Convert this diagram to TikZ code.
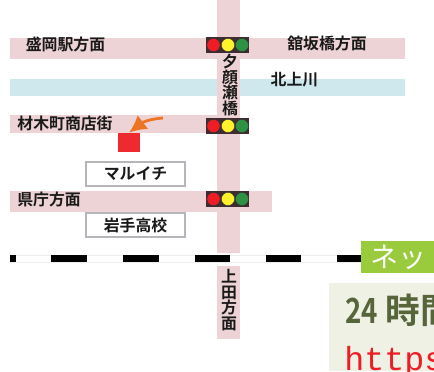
\documentclass[tikz,border=0pt]{standalone}
\usetikzlibrary{arrows.meta}
\usepackage{graphicx}
\usepackage{fontspec}
\setmainfont{Noto Sans CJK JP}
\newfontfamily\cjkbold{Noto Sans CJK JP Bold}
\newfontfamily\netfont{Noto Sans CJK JP}
\newfontfamily\urlfont{Liberation Mono}
\definecolor{road}{HTML}{EDD3D6}
\definecolor{river}{HTML}{CFE8ED}
\definecolor{sigbox}{HTML}{3D2C30}
\definecolor{sigred}{HTML}{EE1C25}
\definecolor{sigyel}{HTML}{FFF22D}
\definecolor{siggrn}{HTML}{2E9144}
\definecolor{markred}{HTML}{EE2A30}
\definecolor{arrowor}{HTML}{ED7424}
\definecolor{netgreen}{HTML}{9ACB3C}
\definecolor{panel}{HTML}{EEF1E4}
\definecolor{timegreen}{HTML}{56653A}
\definecolor{boxline}{HTML}{B5B5BA}
\tikzset{
  x=0.75pt,y=-0.75pt,
  label text/.style={font=\cjkbold\fontsize{11.9pt}{11.9pt}\selectfont,text=black!90,inner sep=0pt,align=center},
  place box/.style={draw=boxline,line width=1.5pt,fill=white,minimum width=74.5pt,minimum height=17.8pt,inner sep=0pt,font=\cjkbold\fontsize{11.9pt}{12pt}\selectfont,text=black!90},
  rail black/.style={fill=black},
  rail white/.style={fill=white,draw=black!7,line width=0.5pt}
}
\newcommand{\signal}[1]{%
  \fill[sigbox] (206,#1-8) rectangle (249,#1+8);
  \fill[sigred,draw=black!80,line width=0.3pt] (213.5,#1) circle (6.6);
  \fill[sigyel,draw=black!80,line width=0.3pt] (228,#1) circle (6.6);
  \fill[siggrn,draw=black!80,line width=0.3pt] (242,#1) circle (6.6);
}
\begin{document}
\begin{tikzpicture}
\useasboundingbox (0,0) rectangle (434,371);
% river and roads
\fill[river] (10,79) rectangle (405,96);
\fill[road] (10,38) rectangle (405,59);
\fill[road] (10,115) rectangle (240,133);
\fill[road] (10,191) rectangle (272,212);
\fill[road] (217,0) rectangle (240,253);
\fill[road] (217,266) rectangle (240,339);
% railway
\path[rail white] (10,255) rectangle (361,262);
\foreach \a/\b in {10/16,51/87,123/159,195/230,266/301,337/361}
  \fill[rail black] (\a,255) rectangle (\b,262);
% signals
\signal{45}
\signal{126}
\signal{199}
% labels
\node[label text] (morioka) at (65.5,44) {盛岡駅方面};
\node[label text] (tatesaka) at (327,43) {舘坂橋方面};
\node[label text] (kitakami) at (294.5,80) {北上川};
\node[label text] (zaimoku) at (65,123) {材木町商店街};
\node[label text] (kencho) at (49,199) {県庁方面};
\node[label text] (yugao) at (230,85) {夕\\顔\\瀬\\橋};
\node[label text] (ueda) at (229,300) {上\\田\\方\\面};
% places
\node[place box] (maruichi) at (135.5,174) {マルイチ};
\node[place box] (iwate) at (135.5,225) {岩手高校};
\node[fill=markred,minimum width=16.5pt,minimum height=14.3pt,inner sep=0pt] (shop) at (129,142.5) {};
\coordinate (arrowstart) at (163,118);
\draw[arrowor,line width=2.1pt,-{Latex[length=13pt,width=13pt]}] (arrowstart) .. controls (150,119) and (143,122) .. (shop.north);
% cropped web page parts
\fill[netgreen] (361,241) rectangle (434,273);
\node[anchor=west,inner sep=0pt,text=white,font=\netfont\fontsize{21pt}{21pt}\selectfont] (net) at (370,257) {ネッ};
\fill[panel] (329,283) rectangle (434,371);
\begin{scope}
\clip (329,283) rectangle (434,371);
\node[anchor=base west,inner sep=0pt,text=timegreen,font=\cjkbold\fontsize{26pt}{28pt}\selectfont] (hours) at (345,323) {\scalebox{0.8}[1]{24} 時間};
\node[anchor=base west,inner sep=0pt,text=sigred,font=\urlfont\fontsize{25pt}{27pt}\selectfont] (url) at (344,370) {https};
\end{scope}
\end{tikzpicture}
\end{document}
